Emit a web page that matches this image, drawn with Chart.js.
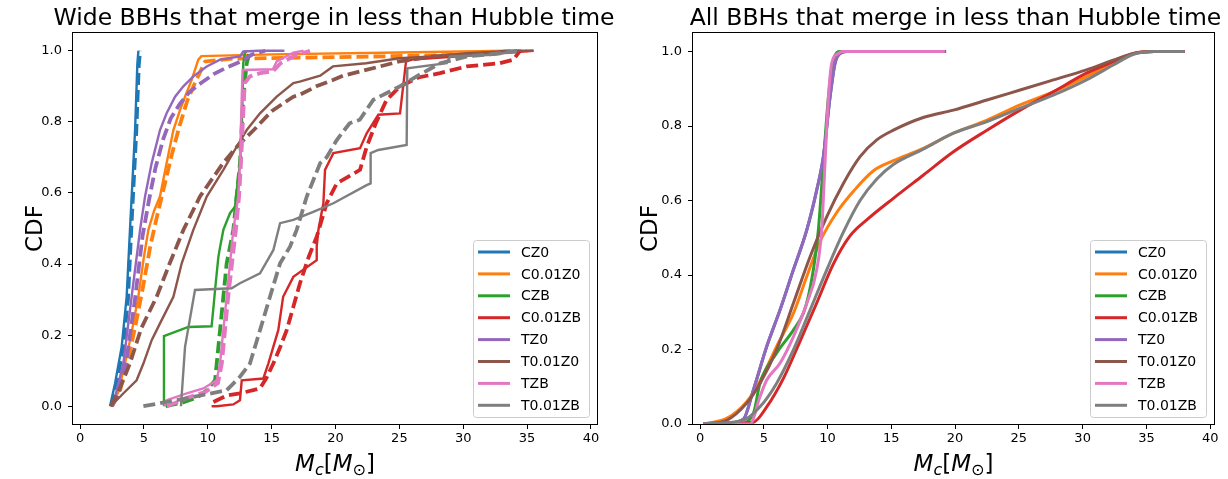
<!DOCTYPE html>
<html lang="en">
<head>
<meta charset="UTF-8">
<title>BBH chirp mass CDF</title>
<script src="https://cdn.jsdelivr.net/npm/chart.js@4"></script>
<style>
  body { margin: 0; background: #fff; }
  .panel { position: absolute; top: 0; }
  #wideChart { left: 0; }
  #allChart { left: 614px; }
</style>
</head>
<body>
<canvas id="wideChart" class="panel" width="614" height="479"></canvas>
<canvas id="allChart" class="panel" width="614" height="479"></canvas>

<script>
// model names and matplotlib tab10 colours
const models = ['CZ0', 'C0.01Z0', 'CZB', 'C0.01ZB', 'TZ0', 'T0.01Z0', 'TZB', 'T0.01ZB'];
const colors = ['#1f77b4', '#ff7f0e', '#2ca02c', '#d62728', '#9467bd', '#8c564b', '#e377c2', '#7f7f7f'];

const xTicks = [0, 5, 10, 15, 20, 25, 30, 35, 40];
const wideYTicks = [0, 0.2, 0.4, 0.6, 0.8, 1.0];
const allYTicks = [0, 0.2, 0.4, 0.6, 0.8, 1.0];

// ---- left panel: wide BBHs (solid + dashed per model) ----
const wideCZ0X = [2.35, 2.74, 3.26, 3.65, 3.91, 4.31, 4.49, 4.57];
const wideCZ0Y = [0, 0.064, 0.167, 0.308, 0.496, 0.777, 0.965, 1.0];
const wideCZ0DashX = [2.45, 2.85, 3.35, 3.75, 4.0, 4.4, 4.6, 4.7];
const wideCZ0DashY = [0, 0.06, 0.16, 0.3, 0.49, 0.77, 0.96, 1.0];

const wideC001Z0X = [2.4, 3.0, 3.52, 4.0, 4.57, 5.0, 5.35, 5.8, 6.26, 6.78, 7.31, 7.8, 8.22, 8.74, 9.26, 9.5, 15, 25, 33.5];
const wideC001Z0Y = [0, 0.04, 0.12, 0.2, 0.31, 0.42, 0.496, 0.55, 0.59, 0.684, 0.777, 0.83, 0.871, 0.918, 0.975, 0.985, 0.99, 0.995, 1.0];
const wideC001Z0DashX = [2.5, 3.1, 3.7, 4.3, 4.9, 5.5, 6.0, 6.6, 7.2, 7.8, 8.4, 9.0, 9.8, 12, 20, 28, 35];
const wideC001Z0DashY = [0, 0.04, 0.12, 0.22, 0.33, 0.45, 0.53, 0.62, 0.71, 0.79, 0.86, 0.91, 0.97, 0.978, 0.982, 0.987, 1.0];

const wideCZBX = [6.57, 6.57, 8.48, 10.3, 10.45, 10.57, 10.83, 10.96, 11.22, 11.74, 12.13, 12.26, 12.52, 12.66, 12.78, 12.9, 13.05];
const wideCZBY = [0, 0.197, 0.223, 0.225, 0.28, 0.327, 0.42, 0.447, 0.496, 0.543, 0.561, 0.605, 0.684, 0.777, 0.965, 0.993, 1.0];
const wideCZBDashX = [6.7, 8.0, 9.2, 9.92, 10.57, 10.7, 10.96, 11.22, 11.48, 12.0, 12.26, 12.52, 12.78, 13.05, 13.3];
const wideCZBDashY = [0, 0.01, 0.025, 0.045, 0.073, 0.12, 0.214, 0.308, 0.402, 0.496, 0.59, 0.684, 0.871, 0.965, 1.0];

const wideC001ZBX = [10.3, 10.7, 12.0, 12.52, 12.66, 14.35, 14.74, 15.52, 15.9, 16.7, 18.53, 18.53, 18.66, 19.05, 19.18, 19.83, 21.92, 22.44, 23.35, 25.05, 25.52, 26.0, 30, 35.5];
const wideC001ZBY = [0, 0, 0.005, 0.017, 0.073, 0.078, 0.12, 0.214, 0.308, 0.364, 0.411, 0.45, 0.496, 0.571, 0.665, 0.712, 0.726, 0.768, 0.82, 0.824, 0.97, 0.975, 0.985, 1.0];
const wideC001ZBDashX = [10.44, 11.5, 12.52, 14.09, 14.6, 15.13, 15.6, 16.18, 16.7, 17.22, 17.9, 18.53, 19.31, 20.1, 21.92, 22.44, 23.2, 24.0, 25.05, 26.5, 28.18, 30.27, 32.88, 33.92, 34.44];
const wideC001ZBDashY = [0.012, 0.03, 0.036, 0.05, 0.08, 0.12, 0.16, 0.214, 0.28, 0.346, 0.42, 0.477, 0.571, 0.627, 0.665, 0.73, 0.8, 0.862, 0.9, 0.925, 0.937, 0.956, 0.965, 0.975, 1.0];

const wideTZ0X = [2.5, 2.74, 3.39, 4.04, 4.7, 5.09, 5.61, 6.26, 6.78, 7.44, 8.09, 8.87, 9.92, 10.96, 12.52, 12.78, 14, 16.0];
const wideTZ0Y = [0, 0.026, 0.12, 0.308, 0.496, 0.59, 0.684, 0.777, 0.824, 0.871, 0.9, 0.928, 0.956, 0.975, 0.984, 0.998, 1.0, 1.0];
const wideTZ0DashX = [2.5, 2.9, 3.6, 4.3, 4.9, 5.4, 5.9, 6.5, 7.1, 7.8, 8.6, 9.5, 10.5, 11.6, 12.6, 13.5, 14.5];
const wideTZ0DashY = [0, 0.03, 0.12, 0.3, 0.48, 0.58, 0.67, 0.75, 0.81, 0.85, 0.885, 0.91, 0.935, 0.955, 0.97, 0.99, 1.0];

const wideT001Z0X = [2.4, 3.5, 4.43, 4.96, 5.61, 6.26, 7.31, 7.96, 8.87, 9.92, 11.22, 12.26, 13.05, 14.09, 15.4, 16.7, 17.2, 18.8, 19.8, 22.4, 25.0, 27.6, 30.3, 34.2, 35.5];
const wideT001Z0Y = [0, 0.04, 0.073, 0.12, 0.186, 0.233, 0.308, 0.402, 0.496, 0.59, 0.665, 0.73, 0.777, 0.824, 0.871, 0.909, 0.913, 0.93, 0.956, 0.965, 0.979, 0.984, 0.993, 1.0, 1.0];
const wideT001Z0DashX = [2.4, 3.0, 3.9, 4.8, 6.0, 7.0, 8.09, 9.39, 11.2, 12.4, 13.6, 15.0, 16.7, 17.2, 18.5, 19.8, 20.6, 22.4, 25.0, 27.6, 30.5, 34.2];
const wideT001Z0DashY = [0, 0.04, 0.12, 0.22, 0.308, 0.4, 0.496, 0.59, 0.684, 0.735, 0.777, 0.83, 0.871, 0.876, 0.9, 0.918, 0.93, 0.946, 0.97, 0.984, 0.99, 1.0];

const wideTZBX = [6.6, 6.78, 8.35, 9.65, 10.7, 10.96, 11.22, 11.48, 11.74, 12.0, 12.39, 12.52, 12.66, 12.73, 15.1, 15.4, 16.7, 17.5];
const wideTZBY = [0, 0.017, 0.036, 0.05, 0.073, 0.12, 0.214, 0.308, 0.402, 0.496, 0.59, 0.684, 0.871, 0.946, 0.948, 0.97, 0.995, 1.0];
const wideTZBDashX = [6.8, 8.5, 9.8, 10.8, 11.1, 11.35, 11.6, 11.9, 12.2, 12.45, 12.6, 12.75, 12.9, 13.3, 14.1, 15.1, 15.7, 16.7, 18.0];
const wideTZBDashY = [0, 0.025, 0.04, 0.065, 0.12, 0.214, 0.308, 0.402, 0.496, 0.59, 0.684, 0.8, 0.909, 0.928, 0.937, 0.942, 0.965, 0.984, 1.0];

const wideT001ZBX = [7.9, 8.22, 9.0, 11.87, 12.52, 14.09, 15.13, 15.66, 16.7, 18.26, 19.83, 22.44, 22.75, 22.75, 23.35, 25.57, 25.62, 28.7, 28.96, 32.35, 34.2];
const wideT001ZBY = [0, 0.167, 0.327, 0.332, 0.346, 0.374, 0.439, 0.515, 0.524, 0.547, 0.571, 0.622, 0.627, 0.712, 0.721, 0.735, 0.951, 0.965, 0.984, 0.989, 1.0];
const wideT001ZBDashX = [4.96, 8.0, 11.48, 12.52, 13.3, 14.09, 14.87, 15.66, 16.44, 16.96, 17.75, 18.8, 19.3, 20.1, 21.1, 21.9, 22.96, 25.05, 26.35, 28.2, 30.3, 32.9, 34.2];
const wideT001ZBDashY = [0, 0.02, 0.045, 0.083, 0.12, 0.214, 0.308, 0.402, 0.449, 0.496, 0.59, 0.684, 0.7, 0.749, 0.796, 0.806, 0.862, 0.9, 0.928, 0.965, 0.984, 0.993, 1.0];

// ---- right panel: all BBHs ----
const allCZ0X = [0.25, 2.0, 3.4, 4.18, 5.23, 6.27, 7.32, 8.37, 9.15, 9.67, 10.2, 10.59, 10.98, 11.5, 19.2];
const allCZ0Y = [0, 0.002, 0.013, 0.091, 0.208, 0.306, 0.414, 0.521, 0.628, 0.718, 0.879, 0.969, 0.995, 1.0, 1.0];
const allC001Z0X = [0.25, 2.09, 3.66, 4.7, 6.0, 7.32, 8.37, 9.41, 10.72, 12.03, 13.6, 15.16, 17.5, 19.87, 22.5, 25.1, 27.7, 30.3, 32.4, 34.0, 35.6, 38.0];
const allC001Z0Y = [0, 0.015, 0.06, 0.115, 0.208, 0.297, 0.396, 0.49, 0.568, 0.625, 0.68, 0.707, 0.74, 0.781, 0.816, 0.857, 0.892, 0.933, 0.969, 0.995, 1.0, 1.0];
const allCZBX = [0.25, 3.0, 4.2, 4.7, 6.0, 7.32, 8.1, 8.49, 9.0, 9.28, 9.67, 10.07, 10.46, 11.0, 19.3];
const allCZBY = [0, 0, 0.03, 0.109, 0.19, 0.252, 0.297, 0.342, 0.44, 0.521, 0.7, 0.879, 0.978, 1.0, 1.0];
const allC001ZBX = [0.25, 4.18, 5.23, 6.53, 7.84, 9.15, 10.46, 11.76, 13.07, 15.16, 17.5, 19.87, 22.5, 25.1, 27.7, 30.3, 32.4, 34.0, 35.6, 38.0];
const allC001ZBY = [0, 0.005, 0.046, 0.122, 0.222, 0.325, 0.43, 0.505, 0.548, 0.606, 0.668, 0.731, 0.789, 0.843, 0.892, 0.942, 0.973, 0.995, 1.0, 1.0];
const allTZ0X = [0.25, 2.0, 3.4, 4.18, 5.23, 6.27, 7.32, 8.37, 9.15, 9.67, 10.2, 10.59, 10.98, 11.5, 19.2];
const allTZ0Y = [0, 0.002, 0.013, 0.091, 0.208, 0.306, 0.414, 0.521, 0.628, 0.718, 0.879, 0.969, 0.995, 1.0, 1.0];
const allT001Z0X = [0.25, 2.09, 3.66, 4.7, 6.0, 7.32, 8.63, 9.94, 11.24, 12.55, 13.86, 15.16, 17.5, 19.87, 22.5, 25.1, 27.7, 30.3, 32.4, 34.0, 35.6, 38.0];
const allT001Z0Y = [0, 0.01, 0.056, 0.109, 0.199, 0.324, 0.449, 0.557, 0.646, 0.718, 0.763, 0.789, 0.823, 0.843, 0.87, 0.897, 0.924, 0.951, 0.977, 0.995, 1.0, 1.0];
const allTZBX = [0.25, 3.0, 3.92, 4.7, 5.23, 6.27, 7.32, 8.37, 9.15, 9.54, 9.8, 10.07, 10.33, 10.85, 11.2, 19.2];
const allTZBY = [0, 0, 0, 0.073, 0.118, 0.163, 0.234, 0.324, 0.414, 0.521, 0.7, 0.879, 0.969, 0.995, 1.0, 1.0];
const allT001ZBX = [0.25, 3.4, 4.7, 6.0, 7.32, 8.63, 9.94, 11.24, 12.55, 13.86, 15.16, 17.5, 19.87, 22.5, 25.1, 27.7, 30.3, 32.4, 34.0, 35.6, 38.0];
const allT001ZBY = [0, 0.01, 0.046, 0.109, 0.199, 0.306, 0.414, 0.515, 0.6, 0.658, 0.697, 0.738, 0.781, 0.812, 0.848, 0.883, 0.924, 0.964, 0.993, 1.0, 1.0];

const wideSolid = [
  [wideCZ0X, wideCZ0Y], [wideC001Z0X, wideC001Z0Y], [wideCZBX, wideCZBY], [wideC001ZBX, wideC001ZBY],
  [wideTZ0X, wideTZ0Y], [wideT001Z0X, wideT001Z0Y], [wideTZBX, wideTZBY], [wideT001ZBX, wideT001ZBY]
];
const wideDashed = [
  [wideCZ0DashX, wideCZ0DashY], [wideC001Z0DashX, wideC001Z0DashY], [wideCZBDashX, wideCZBDashY], [wideC001ZBDashX, wideC001ZBDashY],
  [wideTZ0DashX, wideTZ0DashY], [wideT001Z0DashX, wideT001Z0DashY], [wideTZBDashX, wideTZBDashY], [wideT001ZBDashX, wideT001ZBDashY]
];
const allCurves = [
  [allCZ0X, allCZ0Y], [allC001Z0X, allC001Z0Y], [allCZBX, allCZBY], [allC001ZBX, allC001ZBY],
  [allTZ0X, allTZ0Y], [allT001Z0X, allT001Z0Y], [allTZBX, allTZBY], [allT001ZBX, allT001ZBY]
];

const toPoints = (xs, ys) => xs.map((x, i) => ({ x: x, y: ys[i] }));

Chart.defaults.font.family = '"DejaVu Sans", sans-serif';
Chart.defaults.color = '#000';

// matplotlib style: frame, title, axis labels and the legend box
function drawMassLabel(ctx, cx, baseline) {
  const parts = [
    { t: 'M', f: 'italic 23px "DejaVu Sans"', dy: 0 },
    { t: 'c', f: 'italic 16px "DejaVu Sans"', dy: 4 },
    { t: '[', f: '23px "DejaVu Sans"', dy: 0 },
    { t: 'M', f: 'italic 23px "DejaVu Sans"', dy: 0 },
    { t: '\u2299', f: '16px "DejaVu Sans"', dy: 4 },
    { t: ']', f: '23px "DejaVu Sans"', dy: 0 }
  ];
  let total = 0;
  parts.forEach(p => { ctx.font = p.f; p.w = ctx.measureText(p.t).width; total += p.w; });
  let x = cx - total / 2;
  ctx.textAlign = 'left';
  ctx.textBaseline = 'alphabetic';
  parts.forEach(p => { ctx.font = p.f; ctx.fillText(p.t, x, baseline + p.dy); x += p.w; });
}

const decor = {
  id: 'decor',
  afterDraw(chart, args, opts) {
    const { ctx, chartArea: a } = chart;
    ctx.save();
    ctx.strokeStyle = '#000';
    ctx.lineWidth = 1;
    ctx.strokeRect(Math.round(a.left) - 0.5, Math.round(a.top) - 0.5, a.right - a.left + 1, a.bottom - a.top + 1);

    ctx.fillStyle = '#000';
    ctx.font = '23.5px "DejaVu Sans"';
    ctx.textAlign = 'center';
    ctx.textBaseline = 'alphabetic';
    ctx.fillText(opts.title, (a.left + a.right) / 2 + opts.titleShift, 25);

    ctx.save();
    ctx.font = '23px "DejaVu Sans"';
    ctx.translate(opts.yLabelX, (a.top + a.bottom) / 2);
    ctx.rotate(-Math.PI / 2);
    ctx.textBaseline = 'middle';
    ctx.fillText('CDF', 0, 0);
    ctx.restore();

    drawMassLabel(ctx, (a.left + a.right) / 2, 471);

    // legend, lower right
    const w = 116, h = 177;
    const lx = a.right - 8 - w, ly = a.bottom - 7 - h;
    ctx.beginPath();
    ctx.roundRect(lx + 0.5, ly + 0.5, w, h, 3);
    ctx.fillStyle = 'rgba(255,255,255,0.8)';
    ctx.fill();
    ctx.strokeStyle = '#cccccc';
    ctx.lineWidth = 1;
    ctx.stroke();
    ctx.font = '14px "DejaVu Sans"';
    ctx.textAlign = 'left';
    ctx.textBaseline = 'middle';
    models.forEach((name, i) => {
      const y = ly + 12 + i * 21.9;
      ctx.beginPath();
      ctx.moveTo(lx + 5, y);
      ctx.lineTo(lx + 37, y);
      ctx.strokeStyle = colors[i];
      ctx.lineWidth = 3;
      ctx.stroke();
      ctx.fillStyle = '#000';
      ctx.fillText(name, lx + 48, y + 1);
    });
    ctx.restore();
  }
};

function axes(xMin, xMax, yMin, yMax, yTicks, yWidth) {
  return {
    x: {
      type: 'linear', min: xMin, max: xMax,
      afterBuildTicks: s => { s.ticks = xTicks.map(v => ({ value: v })); },
      afterFit: s => { s.height = 55; },
      ticks: { font: { size: 13 }, padding: 2, maxRotation: 0, color: '#000' },
      grid: { drawOnChartArea: false, tickLength: 5, color: '#000' },
      border: { display: false }
    },
    y: {
      type: 'linear', min: yMin, max: yMax,
      afterBuildTicks: s => { s.ticks = yTicks.map(v => ({ value: v })); },
      afterFit: s => { s.width = yWidth; },
      ticks: { font: { size: 13 }, padding: 6, color: '#000', callback: v => v.toFixed(1) },
      grid: { drawOnChartArea: false, tickLength: 5, color: '#000' },
      border: { display: false }
    }
  };
}

// left panel datasets: solid then dashed for each model, later ones on top
const wideSets = [];
models.forEach((name, i) => {
  wideSets.push({
    label: name,
    data: toPoints(wideSolid[i][0], wideSolid[i][1]),
    borderColor: colors[i], borderWidth: 2.4, pointRadius: 0, tension: 0, fill: false
  });
  wideSets.push({
    label: name + ' (dashed)',
    data: toPoints(wideDashed[i][0], wideDashed[i][1]),
    borderColor: colors[i], borderWidth: 3.8, borderDash: [12, 5], pointRadius: 0, tension: 0, fill: false
  });
});
wideSets.forEach((d, i) => { d.order = wideSets.length - i; });

new Chart(document.getElementById('wideChart'), {
  type: 'line',
  data: { datasets: wideSets },
  options: {
    responsive: false, animation: false,
    layout: { padding: { top: 33, right: 17, left: 0, bottom: 0 } },
    scales: axes(-0.55, 40.47, -0.05, 1.05, wideYTicks, 73),
    plugins: {
      legend: { display: false }, tooltip: { enabled: false },
      decor: { title: 'Wide BBHs that merge in less than Hubble time', yLabelX: 36, titleShift: -1 }
    }
  },
  plugins: [decor]
});

const allSets = models.map((name, i) => ({
  label: name,
  data: toPoints(allCurves[i][0], allCurves[i][1]),
  borderColor: colors[i], borderWidth: 3, pointRadius: 0,
  cubicInterpolationMode: 'monotone', fill: false,
  order: models.length - i
}));

new Chart(document.getElementById('allChart'), {
  type: 'line',
  data: { datasets: allSets },
  options: {
    responsive: false, animation: false,
    layout: { padding: { top: 33, right: 14, left: 0, bottom: 0 } },
    scales: axes(-0.55, 40.3, 0, 1.05, allYTicks, 79),
    plugins: {
      legend: { display: false }, tooltip: { enabled: false },
      decor: { title: 'All BBHs that merge in less than Hubble time', yLabelX: 37, titleShift: 2 }
    }
  },
  plugins: [decor]
});
</script>
</body>
</html>
